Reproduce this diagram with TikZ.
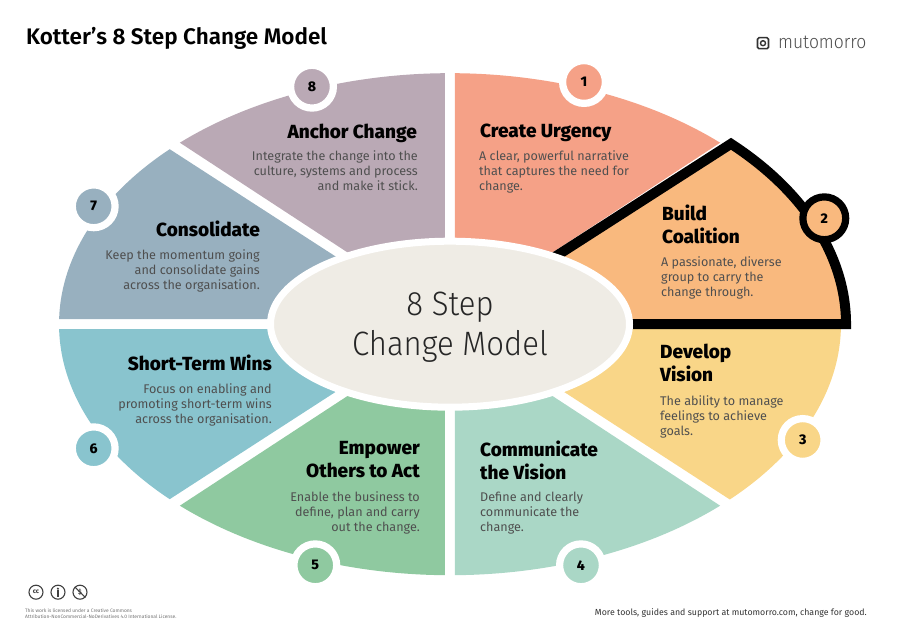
\documentclass[tikz,border=0pt]{standalone}
\usepackage{fontspec}
\usetikzlibrary{shapes.geometric}
\setmainfont{Fira Sans}[BoldFont={Fira Sans ExtraBold}]
\newfontfamily\lightfont{Fira Sans Light}[FakeStretch=0.92]
\newfontfamily\titlefont{Fira Sans}[BoldFont={Fira Sans SemiBold}]
\definecolor{segone}{HTML}{F5A187}
\definecolor{segtwo}{HTML}{F9B97E}
\definecolor{segthree}{HTML}{F9D688}
\definecolor{segfour}{HTML}{AAD7C6}
\definecolor{segfive}{HTML}{8FC9A0}
\definecolor{segsix}{HTML}{89C4CE}
\definecolor{segseven}{HTML}{98B0BF}
\definecolor{segeight}{HTML}{BAA9B5}
\definecolor{hub}{HTML}{EFECE5}
\definecolor{bodygrey}{HTML}{4F4F4F}
\tikzset{
    badge/.style={circle, draw=white, line width=7.2pt, minimum size=42.8pt, inner sep=0pt, text=black,
        font=\fontsize{14}{14}\selectfont\bfseries},
    headleft/.style={anchor=north west, inner sep=0pt, align=left, font=\fontsize{19}{23}\selectfont\bfseries},
    headright/.style={anchor=north east, inner sep=0pt, align=right, font=\fontsize{19}{23}\selectfont\bfseries},
    bodyleft/.style={anchor=north west, inner sep=0pt, align=left, text=bodygrey, font=\fontsize{12.6}{15}\selectfont},
    bodyright/.style={anchor=north east, inner sep=0pt, align=right, text=bodygrey, font=\fontsize{12.6}{15}\selectfont},
    ccmark/.style={circle, draw=black!75, line width=1.1pt, minimum size=14pt, inner sep=0pt, text=black!75,
        font=\fontsize{6.5}{6.5}\selectfont\bfseries},
}
\begin{document}
\begin{tikzpicture}[x=1pt,y=1pt]
    \useasboundingbox (-450,-311.8) rectangle (450,324.2);

    % segments
    \fill[segone] (5,8) -- (5,251) arc[start angle=89.27, end angle=46.3, x radius=391, y radius=251] -- cycle;
    \fill[segeight] (-5,8) -- (-5,251) arc[start angle=90.73, end angle=133.7, x radius=391, y radius=251] -- cycle;
    \fill[segseven] (-17.4,5) -- (-390.9,5) arc[start angle=178.86, end angle=135.8, x radius=391, y radius=251] -- cycle;
    \fill[segsix] (-17.4,-5) -- (-390.9,-5) arc[start angle=181.14, end angle=224.2, x radius=391, y radius=251] -- cycle;
    \fill[segfive] (-5,-8) -- (-5,-251) arc[start angle=269.27, end angle=226.3, x radius=391, y radius=251] -- cycle;
    \fill[segfour] (5,-8) -- (5,-251) arc[start angle=270.73, end angle=313.7, x radius=391, y radius=251] -- cycle;
    \fill[segthree] (17.4,-5) -- (390.9,-5) arc[start angle=358.86, end angle=315.7, x radius=391, y radius=251] -- cycle;
    \draw[draw=black, fill=segtwo, line width=10pt, line join=miter, miter limit=10]
        (0,0) -- (281,180.4) arc[start angle=44.8, end angle=0, x radius=396, y radius=256] -- cycle;

    % centre
    \node[ellipse, fill=hub, draw=white, line width=7pt, minimum width=359pt, minimum height=166pt, inner sep=0pt] (hub) at (0,0) {};
    \node[font=\lightfont\fontsize{33.8}{40}\selectfont, align=center, text=black!85] (hubtext) at (0,-3) {8 Step\\Change Model};

    % badges
    \node[badge, fill=segone] (badge1) at (134,242.2) {1};
    \node[badge, fill=segtwo, draw=black] (badge2) at (374.3,105.9) {2};
    \node[badge, fill=segthree] (badge3) at (352.7,-115.8) {3};
    \node[badge, fill=segfour] (badge4) at (131,-241.1) {4};
    \node[badge, fill=segfive] (badge5) at (-134.7,-241.1) {5};
    \node[badge, fill=segsix] (badge6) at (-356.3,-124.1) {6};
    \node[badge, fill=segseven] (badge7) at (-356.3,117.9) {7};
    \node[badge, fill=segeight] (badge8) at (-138,237.5) {8};

    % headings
    \node[headleft] (head1) at (30,200) {Create Urgency};
    \node[headleft] (head2) at (212,119) {Build\\Coalition};
    \node[headleft] (head3) at (210,-20) {Develop\\Vision};
    \node[headleft] (head4) at (30,-117) {Communicate\\the Vision};
    \node[headright] (head5) at (-30,-117) {Empower\\Others to Act};
    \node[headright] (head6) at (-178,-31) {Short-Term Wins};
    \node[headright] (head7) at (-190,103) {Consolidate};
    \node[headright] (head8) at (-33,200) {Anchor Change};

    % descriptions
    \node[bodyleft] (text1) at (29,173.5) {A clear, powerful narrative\\that captures the need for\\change.};
    \node[bodyleft] (text2) at (211,68) {A passionate, diverse\\group to carry the\\change through.};
    \node[bodyleft] (text3) at (210,-71) {The ability to manage\\feelings to achieve\\goals.};
    \node[bodyleft] (text4) at (30,-167.5) {Define and clearly\\communicate the\\change.};
    \node[bodyright] (text5) at (-30,-167.5) {Enable the business to\\define, plan and carry\\out the change.};
    \node[bodyright] (text6) at (-178,-59.5) {Focus on enabling and\\promoting short-term wins\\across the organisation.};
    \node[bodyright] (text7) at (-190,75) {Keep the momentum going\\and consolidate gains\\across the organisation.};
    \node[bodyright] (text8) at (-32,173.5) {Integrate the change into the\\culture, systems and process\\and make it stick.};

    % title, logo, footer
    \node[anchor=west, inner sep=0pt, font=\titlefont\fontsize{22.5}{22.5}\selectfont\bfseries] (title) at (-424,286) {Kotter’s 8 Step Change Model};
    \node[draw=black!80, rounded corners=1.5pt, line width=1.6pt, minimum size=11pt, inner sep=0pt] (logobox) at (313,281) {};
    \node[circle, draw=black!80, line width=1.4pt, minimum size=5pt, inner sep=0pt] (logodot) at (logobox) {};
    \node[anchor=west, inner sep=0pt, text=black!70, font=\lightfont\fontsize{19}{19}\selectfont] (logotext) at (328,281.5) {mutomorro};
    \node[anchor=east, inner sep=0pt, text=black!80, font=\fontsize{8.8}{8.8}\selectfont] (footer) at (417,-288.5) {More tools, guides and support at mutomorro.com, change for good.};

    \node[ccmark] (cc) at (-414,-268) {cc};
    \node[ccmark] (ccby) at (-392,-268) {};
    \fill[black!75] (-392,-264.5) circle (1.2pt);
    \fill[black!75] (-393.2,-272.5) rectangle (-390.8,-266);
    \node[ccmark] (ccnc) at (-370,-268) {\$};
    \draw[black!75, line width=1pt] (ccnc.north west) -- (ccnc.south east);
    \node[anchor=north west, inner sep=0pt, align=left, text=black!55, font=\fontsize{4.9}{6}\selectfont] (licence) at (-425,-284)
        {This work is licensed under a Creative Commons\\Attribution-NonCommercial-NoDerivatives 4.0 International License.};
\end{tikzpicture}
\end{document}
